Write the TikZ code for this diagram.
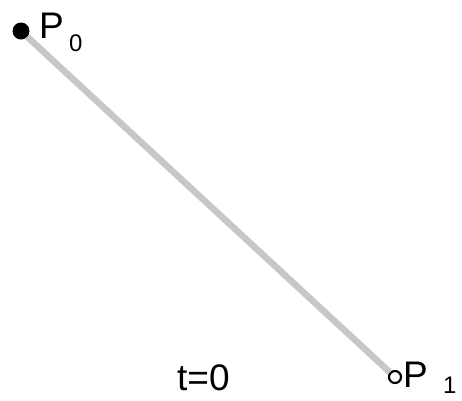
\documentclass[tikz,border=0pt]{standalone}
\usepackage{fontspec}
\setmainfont{Liberation Sans}
\begin{document}
\begin{tikzpicture}[x=1pt,y=-1pt,
  big/.style={anchor=base west,inner sep=0,font=\fontsize{37}{37}\selectfont},
  small/.style={anchor=base west,inner sep=0,font=\fontsize{24}{24}\selectfont},
  seg/.style={draw=black!22,line width=6.5pt}]
\useasboundingbox (0,0) rectangle (462,400);
\node (p0) [circle,fill=black,inner sep=0,minimum size=17pt] at (21,31) {};
\node (p1) [circle,draw=black,line width=2.2pt,fill=white,inner sep=0,minimum size=12pt] at (395,377) {};
\draw[seg] (p0) -- (p1);
\node (lp0) [big] at (39,38) {P};
\node (sp0) [small] at (69,51) {0};
\node (lp1) [big] at (403,387) {P};
\node (sp1) [small] at (443,393) {1};
\node (t) [big] at (177,390) {t=0};
\end{tikzpicture}
\end{document}
